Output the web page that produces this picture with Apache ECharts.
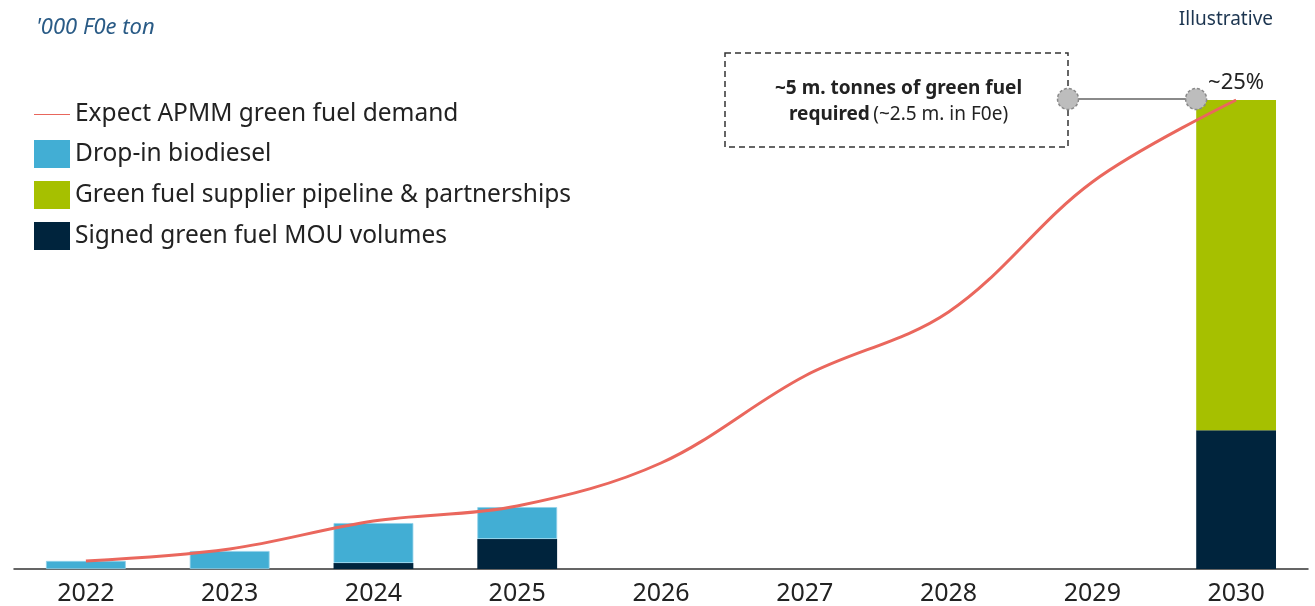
<!DOCTYPE html>
<html><head><meta charset="utf-8">
<script src="https://cdn.jsdelivr.net/npm/echarts@6/dist/echarts.min.js"></script>
<style>html,body{margin:0;padding:0;background:#fff}#c{width:1315px;height:606px}</style>
</head><body><div id="c"></div>
<script>
const years = ['2022','2023','2024','2025','2026','2027','2028','2029','2030'];
const demand = [43, 107, 256, 336, 565, 1029, 1370, 2063, 2500];
const signedMou = [0, 0, 32, 160, null, null, null, null, 740];
const dropIn = [43, 96, 213, 170, null, null, null, null, null];
const pipeline = [null, null, null, null, null, null, null, null, 1760];
const unitLabel = "'000 F0e ton";
const noteLabel = 'Illustrative';
const shareLabel = '~25%';

const FONT = 'Noto Sans';
const chart = echarts.init(document.getElementById('c'));
chart.setOption({
  animation: false,
  textStyle: {fontFamily: FONT},
  grid: {left: 14, right: 7, top: 100, bottom: 37},
  title: [
    {text: unitLabel, left: 31, top: 12, textStyle: {fontFamily: FONT, fontStyle: 'italic', fontWeight: 'normal', fontSize: 22, color: '#2A5B86'}},
    {text: noteLabel, right: 37, top: 5, textStyle: {fontFamily: FONT, fontWeight: 'normal', fontSize: 19, color: '#1C3550'}}
  ],
  legend: {
    orient: 'vertical', left: 29, top: 97, itemWidth: 36, itemHeight: 28, itemGap: 13,
    textStyle: {fontSize: 24.5, color: '#222', fontFamily: FONT},
    data: [
      {name: 'Expect APMM green fuel demand', icon: 'path://M0,14 L36,14 L36,15 L0,15 Z', itemStyle: {color: '#E8665C'}},
      {name: 'Drop-in biodiesel', icon: 'rect', itemStyle: {borderWidth: 0}},
      {name: 'Green fuel supplier pipeline & partnerships', icon: 'rect'},
      {name: 'Signed green fuel MOU volumes', icon: 'rect'}
    ]
  },
  xAxis: {
    type: 'category', data: years,
    axisLine: {lineStyle: {color: '#333', width: 1.5}},
    axisTick: {show: false},
    axisLabel: {fontSize: 25, color: '#222', margin: 12, fontFamily: FONT}
  },
  yAxis: {type: 'value', min: 0, max: 2500, show: false, splitLine: {show: false}},
  series: [
    {name: 'Signed green fuel MOU volumes', type: 'bar', stack: 's', data: signedMou, barWidth: '55.5%', itemStyle: {color: '#00243D'}},
    {name: 'Drop-in biodiesel', type: 'bar', stack: 's', data: dropIn, itemStyle: {color: '#42AED4', borderColor: '#8FD0EA', borderWidth: 0.8}},
    {name: 'Green fuel supplier pipeline & partnerships', type: 'bar', stack: 's', data: pipeline, itemStyle: {color: '#A6C000'},
      label: {show: true, position: 'top', distance: 6, fontSize: 22, color: '#222', formatter: p => p.dataIndex === 8 ? shareLabel : ''}},
    {name: 'Expect APMM green fuel demand', type: 'line', data: demand, smooth: 0.35, symbol: 'none', z: 5,
      lineStyle: {color: '#EA675D', width: 3}, itemStyle: {color: '#EA675D'}}
  ]
});

// annotation box + connector, anchored to the 2030 bar top
const top2030 = chart.convertToPixel({gridIndex: 0}, ['2030', 2500]);
const barHalf = 40;
const cy = top2030[1] - 1;
const boxL = 725, boxR = 1068, boxT = cy - 46, boxB = cy + 48;
const dotR = 10.5;
chart.setOption({
  graphic: [
    {type: 'rect', shape: {x: boxL, y: boxT, width: boxR - boxL, height: boxB - boxT},
      style: {fill: 'none', stroke: '#333', lineWidth: 1.5, lineDash: [6, 4]}, z: 10},
    {type: 'text', x: (boxL + boxR) / 2 + 2, y: cy - 10, style: {
      text: '{b|~5 m. tonnes of green fuel}', align: 'center', verticalAlign: 'middle',
      rich: {b: {fontFamily: FONT, fontWeight: 'bold', fontSize: 19, fill: '#222'}}}, z: 10},
    {type: 'text', x: (boxL + boxR) / 2 + 2, y: cy + 16, style: {
      text: '{b|required} {n|(~2.5 m. in F0e)}', align: 'center', verticalAlign: 'middle',
      rich: {b: {fontFamily: FONT, fontWeight: 'bold', fontSize: 19, fill: '#222'}, n: {fontFamily: FONT, fontSize: 19, fill: '#222'}}}, z: 10},
    {type: 'line', shape: {x1: boxR, y1: cy, x2: top2030[0] - barHalf, y2: cy}, style: {stroke: '#8A8A8A', lineWidth: 2}, z: 11},
    {type: 'circle', shape: {cx: boxR, cy: cy, r: dotR}, style: {fill: '#BDBDBD', stroke: '#8A8A8A', lineWidth: 1.5, lineDash: [3, 2]}, z: 12},
    {type: 'circle', shape: {cx: top2030[0] - barHalf, cy: cy, r: dotR}, style: {fill: '#BDBDBD', stroke: '#8A8A8A', lineWidth: 1.5, lineDash: [3, 2]}, z: 12}
  ]
});
</script></body></html>
